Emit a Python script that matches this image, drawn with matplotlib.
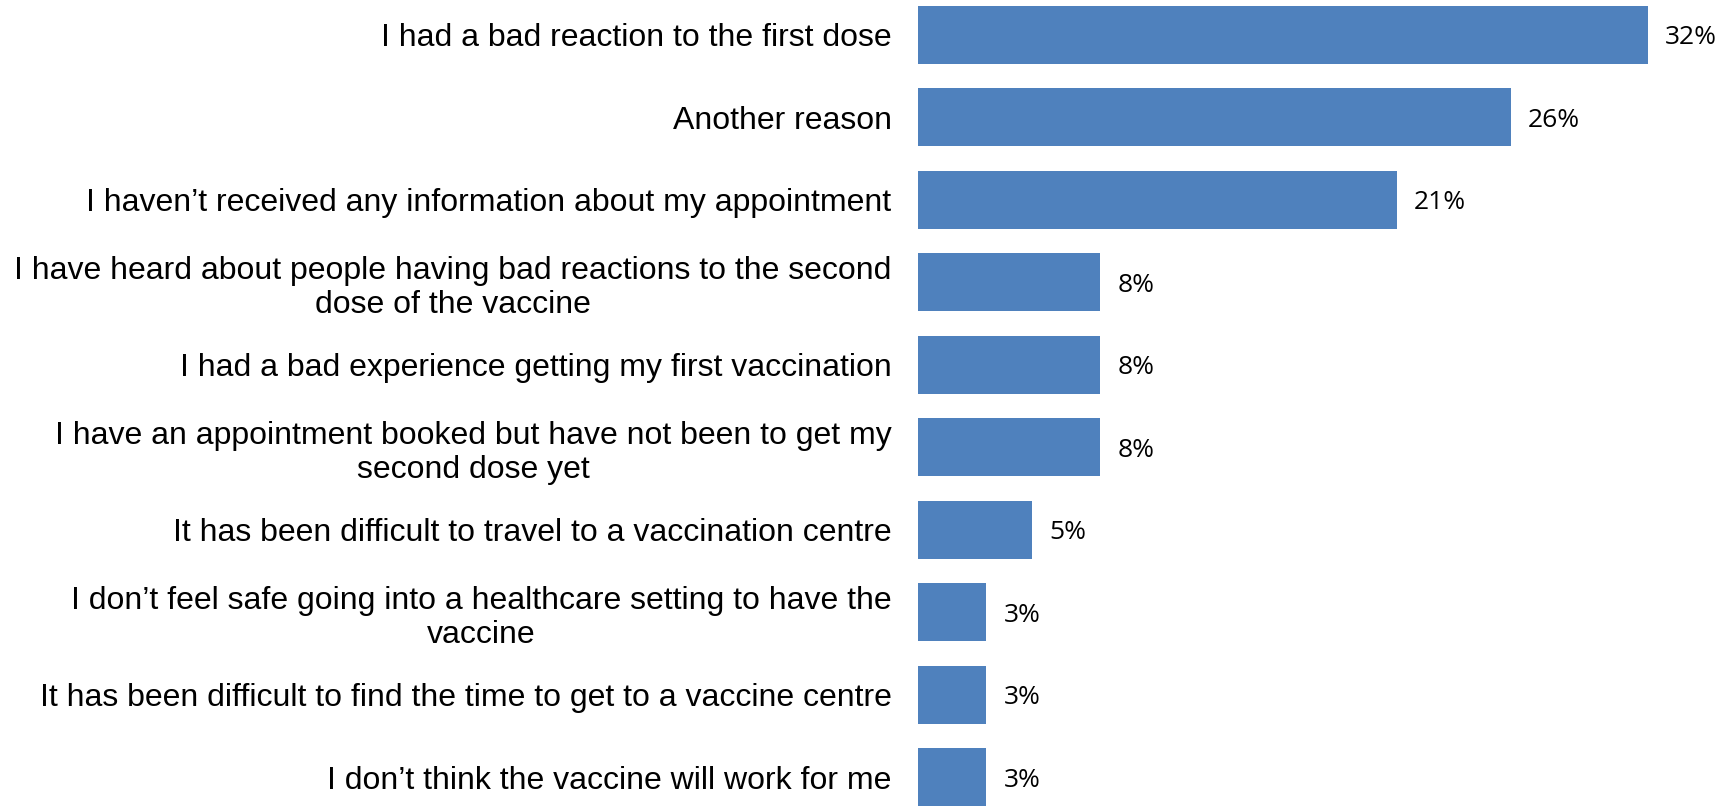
import matplotlib
matplotlib.use("Agg")
import matplotlib.pyplot as plt

categories = [
    "I had a bad reaction to the first dose",
    "Another reason",
    "I haven\u2019t received any information about my appointment",
    "I have heard about people having bad reactions to the second\ndose of the vaccine",
    "I had a bad experience getting my first vaccination",
    "I have an appointment booked but have not been to get my\nsecond dose yet",
    "It has been difficult to travel to a vaccination centre",
    "I don\u2019t feel safe going into a healthcare setting to have the\nvaccine",
    "It has been difficult to find the time to get to a vaccine centre",
    "I don\u2019t think the vaccine will work for me",
]
values = [32, 26, 21, 8, 8, 8, 5, 3, 3, 3]
value_labels = [f"{v}%" for v in values]

bar_color = "#4F81BD"

fig = plt.figure(figsize=(17.33, 8.06), dpi=100)
ax = fig.add_axes([918 / 1733, 0.0, 1 - 918 / 1733, 1.0])

y = list(range(len(categories)))
ax.barh(y, values, height=0.7, color=bar_color)

px_per_unit = 22.8
ax.set_xlim(0, (1733 - 918) / px_per_unit)
ax.set_ylim(9.35, -0.42)

for yi, v, lab in zip(y, values, value_labels):
    ax.annotate(lab, xy=(v, yi), xytext=(17, -3), textcoords="offset pixels",
                ha="left", va="center", fontsize=19, family="Open Sans",
                color="black")

ax.set_yticks(y)
ax.set_yticklabels(categories, fontsize=23.0, family="Liberation Sans",
                   multialignment="center")
ax.tick_params(axis="y", length=0, pad=19)
ax.tick_params(axis="x", bottom=False, labelbottom=False)
for s in ax.spines.values():
    s.set_visible(False)

fig.savefig("out.png", dpi=100)
